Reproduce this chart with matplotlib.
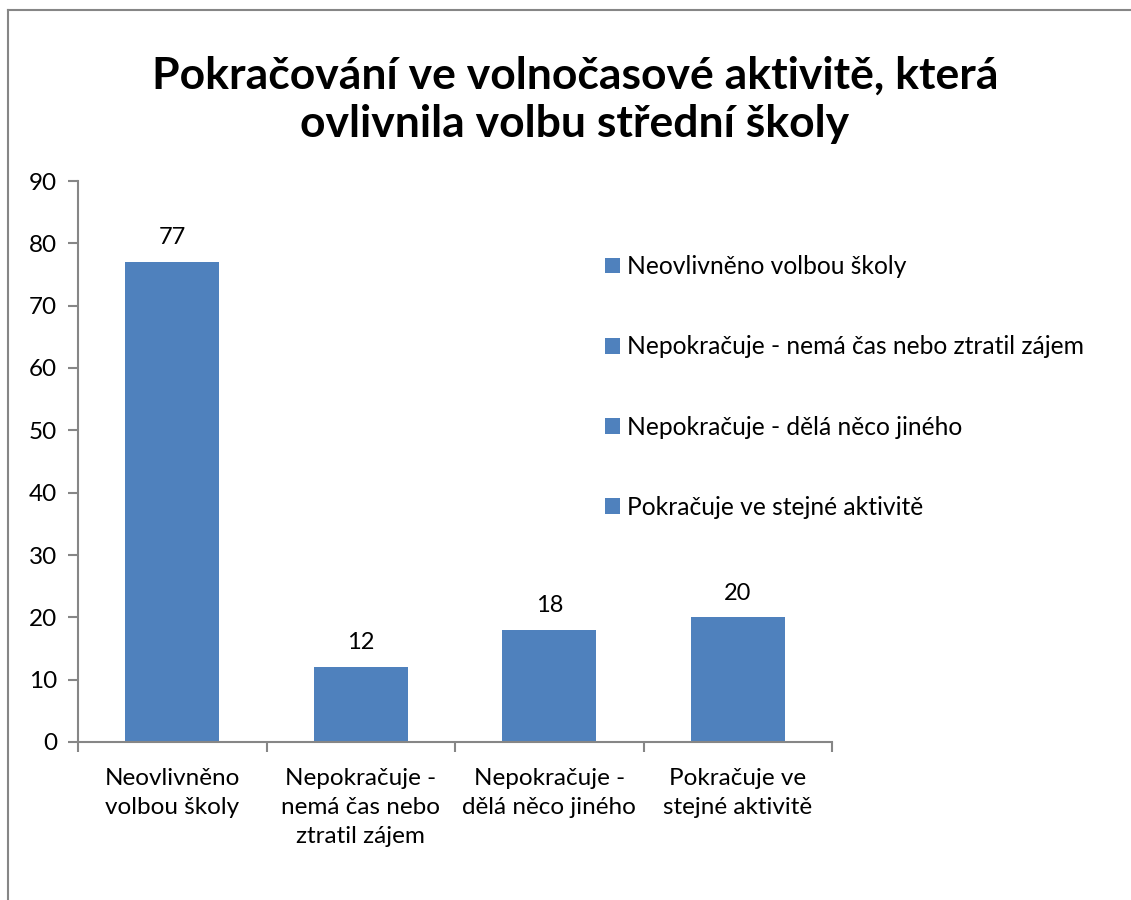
import matplotlib
matplotlib.use('Agg')
from matplotlib import pyplot as plt
from matplotlib.lines import Line2D
import numpy as np

plt.rcParams['font.family'] = ['Lato', 'DejaVu Sans']

# data
categories = ['Neovlivněno volbou školy',
              'Nepokračuje - nemá čas nebo ztratil zájem',
              'Nepokračuje - dělá něco jiného',
              'Pokračuje ve stejné aktivitě']
tick_labels = ['Neovlivněno\nvolbou školy',
               'Nepokračuje -\nnemá čas nebo\nztratil zájem',
               'Nepokračuje -\ndělá něco jiného',
               'Pokračuje ve\nstejné aktivitě']
values = [77, 12, 18, 20]

blue = '#4f81bd'
grey = '#868686'

fig = plt.figure(figsize=(11.31, 9), dpi=100)

# outer chart border (top and left visible)
fig.add_artist(Line2D([8/1131, 8/1131], [0, 1 - 10/900], color=grey, lw=1.5))
fig.add_artist(Line2D([8/1131, 1], [1 - 10/900, 1 - 10/900], color=grey, lw=1.5))

ax = fig.add_axes([78/1131, 1 - 742/900, (832 - 78)/1131, (742 - 181)/900])

x = np.arange(len(values))
bars = ax.bar(x, values, width=0.5, color=blue, zorder=2)
for i, b in enumerate(bars):
    ax.bar(0, 0, color=blue, label=categories[i])  # legend handles

for b, v in zip(bars, values):
    ax.text(b.get_x() + b.get_width()/2, v + 2.2, str(v),
            ha='center', va='bottom', fontsize=17)

ax.set_xlim(-0.5, len(values) - 0.5)
ax.set_ylim(0, 90)
ax.set_yticks(range(0, 91, 10))
ax.set_xticks(np.arange(len(values) + 1) - 0.5)
ax.set_xticklabels([])
ax.set_xticks(x, minor=True)
ax.set_xticklabels(tick_labels, minor=True, fontsize=17.5, linespacing=1.45)
ax.tick_params(axis='x', which='minor', length=0, pad=19)
ax.tick_params(axis='x', which='major', length=7, width=1.5, color=grey, direction='out')
ax.tick_params(axis='y', length=7, width=1.5, color=grey, direction='out',
               labelsize=17.5, pad=8)

for s in ['top', 'right']:
    ax.spines[s].set_visible(False)
for s in ['left', 'bottom']:
    ax.spines[s].set_color(grey)
    ax.spines[s].set_linewidth(1.5)

fig.text(575/1131, 1 - 100/900,
         'Pokračování ve volnočasové aktivitě, která\novlivnila volbu střední školy',
         ha='center', va='center', fontsize=32, fontweight='bold', linespacing=1.25)

handles, labels = ax.get_legend_handles_labels()
fig.legend(handles, labels, loc='upper left', bbox_to_anchor=(583/1131, 1 - 233/900),
           frameon=False, fontsize=17.7, handlelength=0.6, handleheight=0.6,
           handletextpad=0.3, labelspacing=2.33)

fig.savefig('out.png', dpi=100)
